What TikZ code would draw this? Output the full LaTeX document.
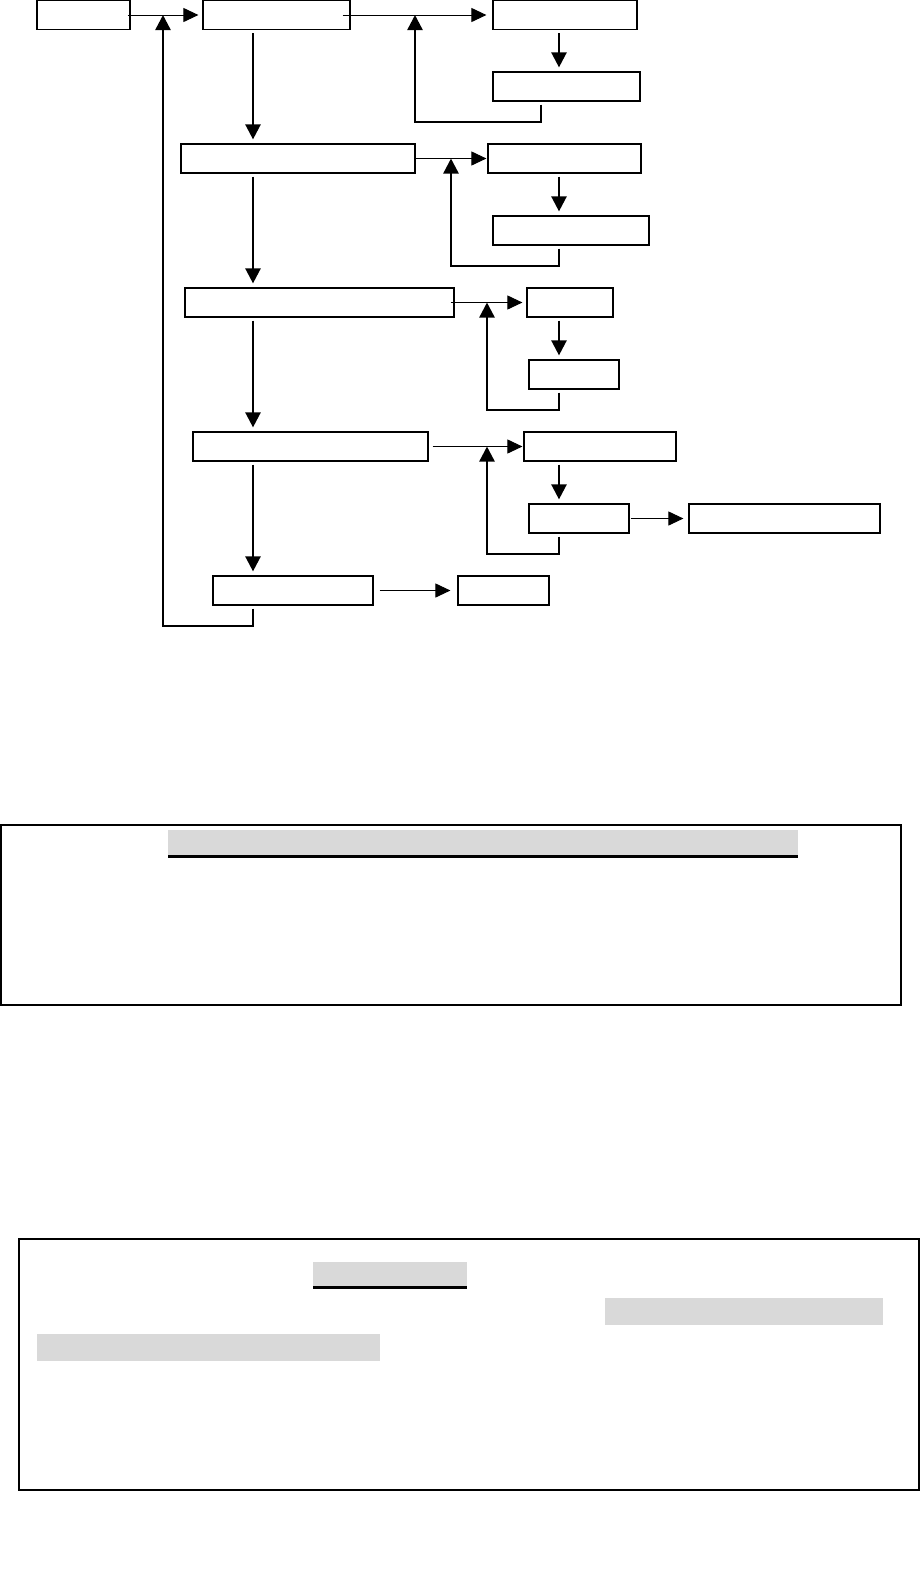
\documentclass[tikz,border=0pt]{standalone}
\usepackage{tikz}
\usetikzlibrary{arrows.meta,positioning,calc}
\definecolor{barGray}{RGB}{217,217,217}

\tikzset{
  box/.style={draw, line width=0.6pt, inner sep=0pt, minimum height=14.5pt},
  flow/.style={draw, line width=0.5pt, -{Triangle[length=7.5pt,width=7pt]}},
  link/.style={draw, line width=1.2pt, -{Triangle[length=7.5pt,width=7.5pt]}, shorten <=1.5pt},
  panel/.style={draw, line width=1pt},
  underbar/.style={draw, line width=1.6pt}
}

\begin{document}
\begin{tikzpicture}[x=0.5pt, y=-0.5pt]
  \useasboundingbox (0,0) rectangle (920,1581);
  \coordinate (col) at (253,0);
  \coordinate (side) at (559,0);

  % main column
  \node[box, minimum width=46.5pt] (start) at (83.5,15) {};
  \node[box, minimum width=73.5pt] (s1) at (276.5,15) {};
  \node[box, minimum width=117pt] (s2) at (298,158.5) {};
  \node[box, minimum width=134.5pt] (s3) at (319.5,302.5) {};
  \node[box, minimum width=117.5pt] (s4) at (310.5,446.5) {};
  \node[box, minimum width=80pt] (s5) at (293,590.5) {};
  \node[box, minimum width=45.5pt] (done) at (503.5,590.5) {};

  % side branches
  \node[box, minimum width=72pt] (t1) at (565,15) {};
  \node[box, minimum width=73.5pt] (c1) at (566.5,86.5) {};
  \node[box, minimum width=76.5pt] (t2) at (564.5,158.5) {};
  \node[box, minimum width=78pt] (c2) at (571,230.5) {};
  \node[box, minimum width=43pt] (t3) at (570,302.5) {};
  \node[box, minimum width=45pt] (c3) at (574,374.5) {};
  \node[box, minimum width=76pt] (t4) at (600,446.5) {};
  \node[box, minimum width=50pt] (c4) at (579,518.5) {};
  \node[box, minimum width=95.5pt] (out) at (784.5,518.5) {};

  \draw[flow, shorten >=2pt] ([xshift=-1.5pt]start.east) -- (s1.west);
  \draw[flow, shorten >=3pt] ([xshift=-4pt]s1.east) -- (t1.west);
  \draw[flow, shorten >=0.5pt] (s2.east) -- (t2.west);
  \draw[flow, shorten >=2pt] ([xshift=-2pt]s3.east) -- (t3.west);
  \draw[flow, shorten >=0.5pt, shorten <=2pt] (s4.east) -- (t4.west);
  \draw[flow, shorten >=2.5pt, shorten <=0.5pt] (c4.east) -- (out.west);
  \draw[flow, shorten >=3.5pt, shorten <=3pt] (s5.east) -- (done.west);

  \draw[link, shorten >=2pt] (s1.south -| col) -- (s2.north -| col);
  \draw[link, shorten >=2pt] (s2.south -| col) -- (s3.north -| col);
  \draw[link, shorten >=2pt] (s3.south -| col) -- (s4.north -| col);
  \draw[link, shorten >=2pt] (s4.south -| col) -- (s5.north -| col);

  \draw[link, shorten >=2pt] (t1.south -| side) -- (c1.north -| side);
  \draw[link, shorten >=2pt] (t2.south -| side) -- (c2.north -| side);
  \draw[link, shorten >=2pt] (t3.south -| side) -- (c3.north -| side);
  \draw[link, shorten >=2pt] (t4.south -| side) -- (c4.north -| side);

  % loops back
  \coordinate (k0) at (163,626);
  \coordinate (k1) at (415,122);
  \coordinate (k1x) at (541,0);
  \coordinate (k2) at (451,266);
  \coordinate (k3) at (487,410);
  \coordinate (k4) at (487,554);
  \draw[link] (s5.south -| col) |- (k0) -- (k0 |- start.east);
  \draw[link] (c1.south -| k1x) |- (k1) -- (k1 |- s1.east);
  \draw[link] (c2.south -| side) |- (k2) -- (k2 |- s2.east);
  \draw[link] (c3.south -| side) |- (k3) -- (k3 |- s3.east);
  \draw[link] (c4.south -| side) |- (k4) -- (k4 |- s4.east);

  % text panels
  \draw[panel] (1,825) rectangle (901,1005);
  \fill[barGray] (168,830) rectangle (798,855);
  \draw[underbar] (168,856.5) -- (798,856.5);

  \draw[panel] (19,1239) rectangle (919,1490);
  \fill[barGray] (313,1262) rectangle (467,1286);
  \draw[underbar] (313,1287.5) -- (467,1287.5);
  \fill[barGray] (605,1298) rectangle (883,1325);
  \fill[barGray] (37,1334) rectangle (380,1361);
\end{tikzpicture}
\end{document}
